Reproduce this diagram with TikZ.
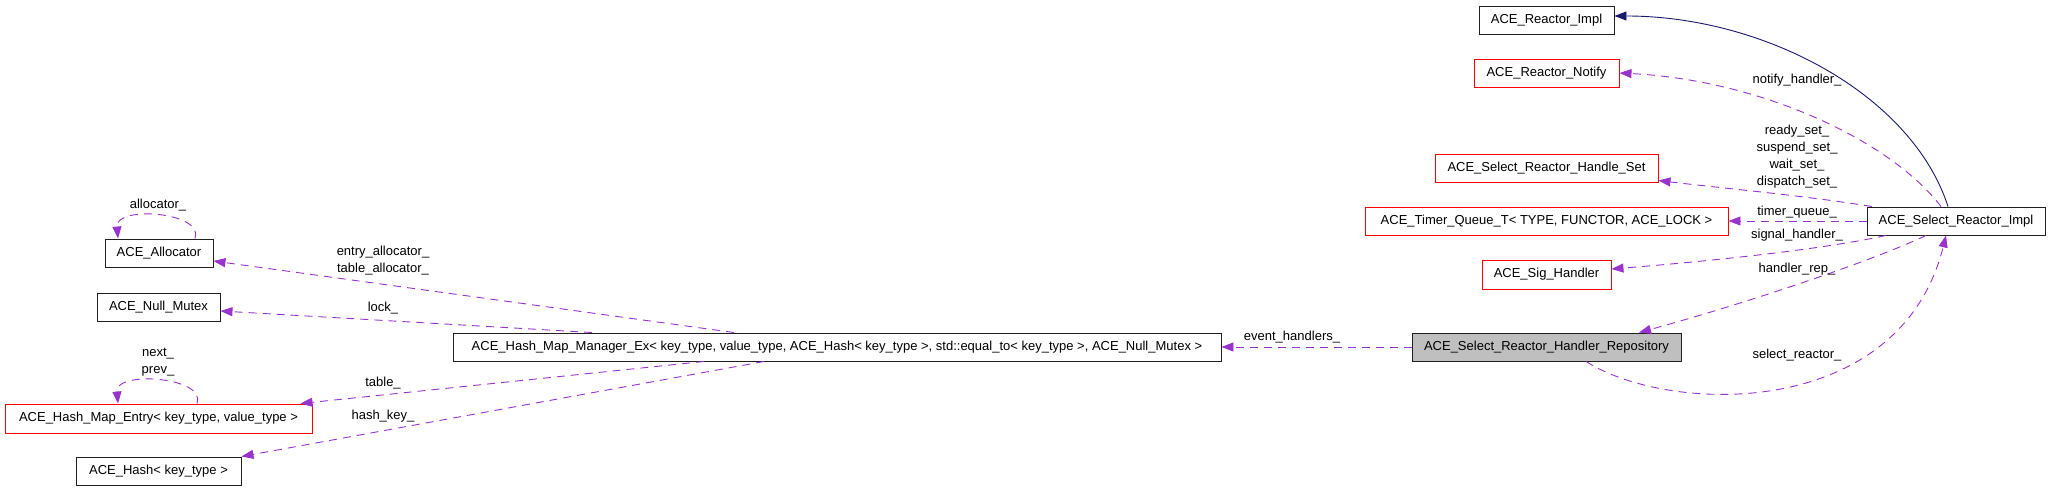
\documentclass[tikz,border=0pt]{standalone}
\usepackage{fontspec}
\setmainfont{Liberation Sans}
\usetikzlibrary{arrows.meta}
\definecolor{purp}{HTML}{9A32CD}
\definecolor{navyc}{HTML}{191970}
\definecolor{grayc}{HTML}{BFBFBF}
\definecolor{redc}{HTML}{FF0000}
\definecolor{bordc}{HTML}{202020}
\tikzset{
  cls/.style={draw=bordc, line width=0.95pt, rectangle, inner sep=0pt, minimum height=28pt,
    font=\fontsize{13}{16}\selectfont, fill=white},
  redcls/.style={cls, draw=redc},
  curcls/.style={cls, fill=grayc},
  uses/.style={draw=purp, line width=0.9pt, dash pattern=on 8pt off 6pt,
    -{Triangle[length=12pt,width=9pt]}},
  inh/.style={draw=navyc, line width=0.9pt, -{Triangle[length=12pt,width=9pt]}},
  lbl/.style={font=\fontsize{13}{17}\selectfont, inner sep=0pt, align=center}
}
\begin{document}
\begin{tikzpicture}[x=1pt,y=-1pt]
\useasboundingbox (0,0) rectangle (2051,492);
% nodes
\node[cls, minimum width=108pt] (alloc) at (159,253) {ACE\_Allocator};
\node[cls, minimum width=123pt] (mutex) at (158.5,307) {ACE\_Null\_Mutex};
\node[redcls, minimum width=307pt, minimum height=29pt] (entry) at (158.5,418.5) {ACE\_Hash\_Map\_Entry< key\_type, value\_type >};
\node[cls, minimum width=165pt] (hash) at (158.5,471) {ACE\_Hash< key\_type >};
\node[cls, minimum width=768pt] (mgr) at (837,347) {ACE\_Hash\_Map\_Manager\_Ex< key\_type, value\_type, ACE\_Hash< key\_type >, std::equal\_to< key\_type >, ACE\_Null\_Mutex >};
\node[curcls, minimum width=269pt] (repo) at (1546.5,347) {ACE\_Select\_Reactor\_Handler\_Repository};
\node[cls, minimum width=135pt] (rimpl) at (1546.5,20) {ACE\_Reactor\_Impl};
\node[redcls, minimum width=145pt] (notify) at (1546.5,73) {ACE\_Reactor\_Notify};
\node[redcls, minimum width=223pt] (hset) at (1546.5,168) {ACE\_Select\_Reactor\_Handle\_Set};
\node[redcls, minimum width=363pt] (timer) at (1546.5,221) {ACE\_Timer\_Queue\_T< TYPE, FUNCTOR, ACE\_LOCK >};
\node[redcls, minimum width=129pt, minimum height=29pt] (sig) at (1546.5,274.5) {ACE\_Sig\_Handler};
\node[cls, minimum width=178pt] (simpl) at (1956,221) {ACE\_Select\_Reactor\_Impl};

% self loops
\draw[uses] ([xshift=36pt]alloc.north) .. controls (205,212) and (115,205) .. ([xshift=-41pt]alloc.north);
\draw[uses] ([xshift=38.5pt]entry.north) .. controls (207,377) and (115,370) .. ([xshift=-40.5pt]entry.north);

% left edges
\draw[uses] ([xshift=-103pt]mgr.north) -- ([yshift=-8pt]alloc.east);
\draw[uses] ([xshift=-245pt]mgr.north) -- ([yshift=-4pt]mutex.east);
\draw[uses] ([xshift=-133pt]mgr.south) -- ([xshift=142pt]entry.north);
\draw[uses] ([xshift=-73pt]mgr.south) -- (hash.north east);
\draw[uses] (repo.west) -- (mgr.east);

% right edges
\draw[inh] ([xshift=-8pt]simpl.north) .. controls (1912,95) and (1765,16) .. ([yshift=4pt]rimpl.east);
\draw[uses] ([xshift=-15pt]simpl.north) .. controls (1890,140) and (1760,80) .. (notify.east);
\draw[uses] ([xshift=-84pt]simpl.north) .. controls (1800,195) and (1720,188) .. ([yshift=2pt]hset.south east);
\draw[uses] (simpl.west) -- (timer.east);
\draw[uses] ([xshift=-70pt]simpl.south) .. controls (1820,250) and (1700,262) .. ([yshift=5.5pt]sig.east);
\draw[uses] ([xshift=-30pt]simpl.south) .. controls (1870,262) and (1740,305) .. ([xshift=92.5pt]repo.north);
\draw[uses] ([xshift=39.5pt]repo.south) .. controls (1670,415) and (1900,420) .. ([xshift=-10pt]simpl.south);

% labels
\node[lbl] (l1) at (158,205) {allocator\_};
\node[lbl] (l2) at (158,362) {next\_\\prev\_};
\node[lbl] (l3) at (383,260.5) {entry\_allocator\_\\table\_allocator\_};
\node[lbl] (l4) at (383,308) {lock\_};
\node[lbl] (l5) at (383,383) {table\_};
\node[lbl] (l6) at (383,416) {hash\_key\_};
\node[lbl] (l7) at (1292,337) {event\_handlers\_};
\node[lbl] (l8) at (1797,80) {notify\_handler\_};
\node[lbl] (l9) at (1797,157) {ready\_set\_\\suspend\_set\_\\wait\_set\_\\dispatch\_set\_};
\node[lbl] (l10) at (1797,212) {timer\_queue\_};
\node[lbl] (l11) at (1797,235) {signal\_handler\_};
\node[lbl] (l12) at (1797,269) {handler\_rep\_};
\node[lbl] (l13) at (1797,355) {select\_reactor\_};
\end{tikzpicture}
\end{document}
